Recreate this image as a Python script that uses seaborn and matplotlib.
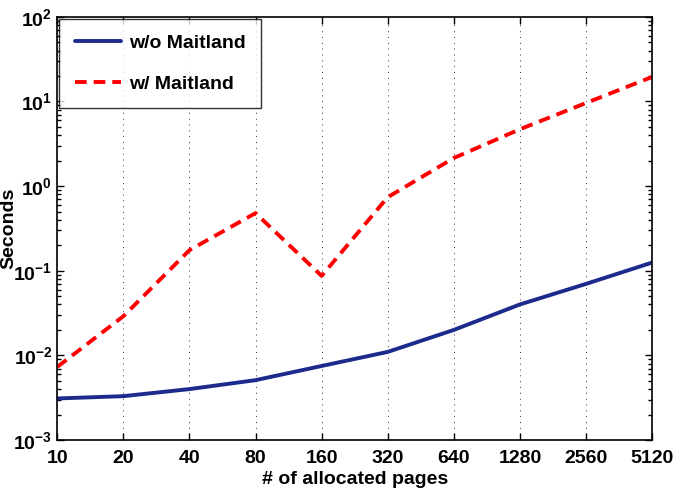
import matplotlib
matplotlib.use("Agg")
import matplotlib.pyplot as plt
import seaborn as sns
import pandas as pd
import numpy as np
from matplotlib.ticker import LogLocator, NullFormatter

# data
pages = [10, 20, 40, 80, 160, 320, 640, 1280, 2560, 5120]
without_maitland = [0.0031, 0.0033, 0.0040, 0.0051, 0.0075, 0.011, 0.020, 0.040, 0.070, 0.125]
with_maitland = [0.0073, 0.029, 0.175, 0.48, 0.087, 0.74, 2.15, 4.7, 9.6, 19.5]
series_names = ["w/o Maitland", "w/ Maitland"]

df = pd.DataFrame({
    "pages": pages * 2,
    "seconds": without_maitland + with_maitland,
    "series": [series_names[0]] * len(pages) + [series_names[1]] * len(pages),
})

sns.set_style("ticks")
plt.rcParams['font.family'] = ['Liberation Sans Narrow', 'Liberation Sans', 'DejaVu Sans']
plt.rcParams['font.weight'] = 'bold'
plt.rcParams['text.color'] = 'black'
plt.rcParams['axes.labelcolor'] = 'black'
plt.rcParams['xtick.color'] = 'black'
plt.rcParams['ytick.color'] = 'black'
plt.rcParams['mathtext.fontset'] = 'custom'
plt.rcParams['mathtext.rm'] = 'Liberation Sans:bold'
plt.rcParams['mathtext.it'] = 'Liberation Sans:bold'
plt.rcParams['mathtext.bf'] = 'Liberation Sans:bold'

fig = plt.figure(figsize=(6.73, 4.95), dpi=100)
ax = fig.add_axes([0.085, 0.111, 0.884, 0.855])

lw = 2.8
sns.lineplot(data=df, x="pages", y="seconds", hue="series", style="series",
             palette=["#1c2a8c", "#ff0000"], dashes=[(None, None), (3, 1.8)],
             linewidth=lw, ax=ax)

ax.set_xscale("log", base=2)
ax.set_yscale("log")
ax.set_xlim(10, 5120)
ax.set_ylim(1e-3, 1e2)
ax.set_xticks(pages)
ax.set_xticklabels([str(p) for p in pages])
ax.xaxis.set_minor_locator(matplotlib.ticker.NullLocator())
ax.yaxis.set_major_locator(LogLocator(base=10, numticks=10))
ax.yaxis.set_minor_locator(LogLocator(base=10, subs=np.arange(2, 10), numticks=20))
ax.yaxis.set_minor_formatter(NullFormatter())

ax.tick_params(which="both", direction="in", top=True, right=True, labelsize=14, width=1)
ax.tick_params(which="major", length=5)
ax.tick_params(which="minor", length=3)
ax.tick_params(axis="x", pad=7)
for lab in ax.get_xticklabels() + ax.get_yticklabels():
    lab.set_fontweight("bold")

ax.xaxis.grid(True, linestyle=(0, (1, 5)), color="#333333", linewidth=0.7)
ax.yaxis.grid(False)
for s in ax.spines.values():
    s.set_linewidth(1.2)
    s.set_color("black")

ax.set_xlabel("# of allocated pages", fontsize=14, fontweight="bold", labelpad=3)
ax.set_ylabel("Seconds", fontsize=14, fontweight="bold", labelpad=-3)

leg = ax.legend(loc="upper left", fontsize=14, frameon=True, fancybox=False,
                edgecolor="black", handlelength=2.4, handletextpad=0.4,
                borderpad=0.8, labelspacing=1.2, borderaxespad=0.1)
leg.get_frame().set_linewidth(1.0)
for t in leg.get_texts():
    t.set_fontweight("bold")
for l in leg.get_lines():
    l.set_linewidth(lw)

fig.savefig("out.png", dpi=100)
